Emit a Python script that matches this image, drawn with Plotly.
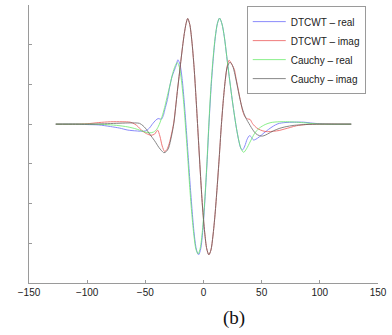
import plotly.graph_objects as go

# ---- data ----
cr_x = [-127, -110, -95, -85, -75, -65, -58, -52, -47, -43, -40, -37.5, -35, -33, -31, -29, -27, -25, -23.5, -22.5,
        -20.7, -18.9, -17.1, -15.3, -13.5, -11.8, -10, -8.2, -6.5, -4.6, -2.8, -0.9, 1.0, 2.8, 4.6, 6.4, 8.3, 10.1,
        12.0, 13.8, 15.9, 17.9, 20.0, 22.1, 24.2, 26.2, 28.3, 30.4, 32.4, 34.5, 37, 40, 44, 48, 53, 58, 65, 72, 80,
        88, 95, 105, 127]
cr_y = [0, 0, 0, -0.01, -0.03, -0.07, -0.12, -0.18, -0.22, -0.2, -0.12, 0.03, 0.25, 0.47, 0.72, 0.96, 1.22, 1.42,
        1.52, 1.55, 1.43, 1.09, 0.56, -0.12, -0.86, -1.6, -2.28, -2.81, -3.15, -3.27, -3.12, -2.68, -1.95, -1.05,
        0.0, 0.95, 1.68, 2.2, 2.54, 2.67, 2.52, 2.2, 1.7, 1.2, 0.72, 0.3, -0.1, -0.42, -0.63, -0.71, -0.62, -0.45,
        -0.23, -0.1, -0.01, 0.04, 0.06, 0.06, 0.05, 0.03, 0.01, 0, 0]

dr_x = [-127, -110, -100, -90, -80, -72, -65, -58, -53, -50, -46.5, -44, -41, -39, -37.5, -36, -34.5, -33.3, -31,
        -29, -27, -25, -23.5, -22, -20.2, -18.4, -16.7, -14.9, -13.1, -11.3, -9.5, -7.8, -6.0, -4.2, -2.4, -0.6,
        1.2, 3.0, 4.8, 6.6, 8.4, 10.2, 12.0, 13.8, 15.9, 17.9, 20.0, 22.1, 24.2, 26.2, 28.3, 30.4, 32, 33.6, 35.5,
        37.5, 39.5, 41, 43, 45, 48, 52, 56, 60, 64, 70, 78, 86, 92, 100, 110, 127]
dr_y = [0, 0, -0.01, -0.02, -0.06, -0.1, -0.15, -0.17, -0.18, -0.17, -0.1, 0.0, 0.1, 0.14, 0.13, 0.13, 0.22, 0.36,
        0.62, 0.95, 1.2, 1.36, 1.48, 1.62, 1.50, 1.15, 0.61, -0.08, -0.84, -1.59, -2.28, -2.82, -3.17, -3.29, -3.14,
        -2.68, -1.92, -1.0, 0.05, 0.95, 1.65, 2.2, 2.54, 2.67, 2.52, 2.2, 1.7, 1.2, 0.72, 0.3, -0.1, -0.43, -0.6,
        -0.65, -0.55, -0.38, -0.29, -0.32, -0.40, -0.38, -0.32, -0.22, -0.13, -0.05, 0.01, 0.04, 0.05, 0.05, 0.03,
        0.01, 0, 0]

di_x = [-127, -110, -100, -90, -80, -70, -63, -59, -56, -53, -49, -45, -42, -39.5, -37.5, -35.5, -33.4, -31.5,
        -29.5, -27.5, -25.5, -24, -22.5, -21, -19.5, -18, -16.5, -15, -13.6, -11.8, -10.0, -8.1, -6.3, -4.5, -2.7,
        -0.9, 1.0, 2.8, 4.6, 6.4, 8.1, 9.9, 11.7, 13.5, 15.2, 17.0, 18.8, 20.5, 22.0, 23.5, 25, 26.5, 28, 30, 32,
        34, 36, 38, 40, 42, 44, 47, 51, 55, 60, 65, 70, 75, 80, 88, 95, 127]
di_y = [0, 0, 0.01, 0.04, 0.06, 0.06, 0.05, 0.0, -0.07, -0.16, -0.24, -0.28, -0.25, -0.15, -0.3, -0.55, -0.69,
        -0.64, -0.49, -0.25, 0.05, 0.42, 0.82, 1.2, 1.58, 1.95, 2.28, 2.53, 2.66, 2.51, 2.09, 1.43, 0.60, -0.32,
        -1.23, -2.06, -2.72, -3.14, -3.29, -3.17, -2.82, -2.28, -1.60, -0.85, -0.09, 0.59, 1.13, 1.48, 1.61, 1.55,
        1.47, 1.38, 1.15, 0.85, 0.55, 0.3, 0.17, 0.13, 0.12, 0.02, -0.05, -0.12, -0.17, -0.19, -0.18, -0.16,
        -0.12, -0.08, -0.04, -0.01, 0, 0]

ci_x = [-127, -110, -95, -85, -75, -65, -58, -55, -52, -50, -46, -42, -38.5, -36, -34, -32, -30, -27.5, -25.5,
        -24, -22.5, -21, -19.5, -18, -16.5, -15, -13.6, -11.8, -10.0, -8.1, -6.3, -4.5, -2.7, -0.9, 1.0, 2.8, 4.6,
        6.4, 8.1, 9.9, 11.7, 13.5, 15.2, 17.0, 18.8, 20.5, 22.8, 25, 27, 29, 31, 33, 35, 37, 39, 41, 43, 45, 48,
        51, 55, 60, 65, 70, 78, 88, 100, 127]
ci_y = [0, 0, 0, 0.01, 0.02, 0.03, 0.03, 0.02, -0.04, -0.1, -0.26, -0.42, -0.58, -0.67, -0.72, -0.69, -0.6, -0.3,
        0.02, 0.4, 0.82, 1.2, 1.58, 1.95, 2.28, 2.53, 2.66, 2.51, 2.09, 1.43, 0.60, -0.32, -1.23, -2.06, -2.72,
        -3.14, -3.29, -3.17, -2.82, -2.28, -1.60, -0.85, -0.09, 0.59, 1.13, 1.45, 1.56, 1.47, 1.25, 0.97, 0.68,
        0.43, 0.25, 0.12, 0.02, -0.08, -0.17, -0.24, -0.29, -0.3, -0.25, -0.17, -0.11, -0.07, -0.03, -0.01, 0, 0]

names = ["DTCWT – real", "DTCWT – imag", "Cauchy – real", "Cauchy – imag"]
colors = ["rgb(100,100,250)", "rgb(235,80,80)", "rgb(100,235,100)", "rgb(95,95,95)"]
x_ticks = [-150, -100, -50, 0, 50, 100, 150]
caption = "(b)"

fig = go.Figure()
for xs, ys, nm, col in zip([dr_x, di_x, cr_x, ci_x], [dr_y, di_y, cr_y, ci_y], names, colors):
    fig.add_trace(go.Scatter(x=xs, y=ys, mode="lines", name=nm,
                             line=dict(color=col, width=1, shape="spline", smoothing=0.8),
                             opacity=0.75))

axis_common = dict(showline=True, linecolor="#9a9a9a", linewidth=1, ticks="inside", ticklen=3,
                   tickcolor="#9a9a9a", showgrid=False, zeroline=False)
fig.update_layout(
    width=392, height=335,
    margin=dict(l=29, r=9, t=5, b=52),
    paper_bgcolor="white", plot_bgcolor="white",
    font=dict(family="Liberation Sans, Arial, sans-serif", size=10, color="#222"),
    xaxis=dict(range=[-150, 150], tickvals=x_ticks, **axis_common),
    yaxis=dict(range=[-4, 3], dtick=1, showticklabels=False, **axis_common),
    legend=dict(x=0.624, y=0.996, xanchor="left", yanchor="top", bgcolor="white",
                bordercolor="#9a9a9a", borderwidth=1, font=dict(size=10, color="#222"),
                tracegroupgap=0, itemwidth=33, entrywidth=92, entrywidthmode="pixels"),
    annotations=[dict(text=caption, xref="paper", yref="paper", x=0.588, y=-0.126,
                      xanchor="center", yanchor="middle", showarrow=False,
                      font=dict(family="Liberation Serif, Times New Roman, serif", size=19, color="#111"))],
)
fig.write_html("out.html")
